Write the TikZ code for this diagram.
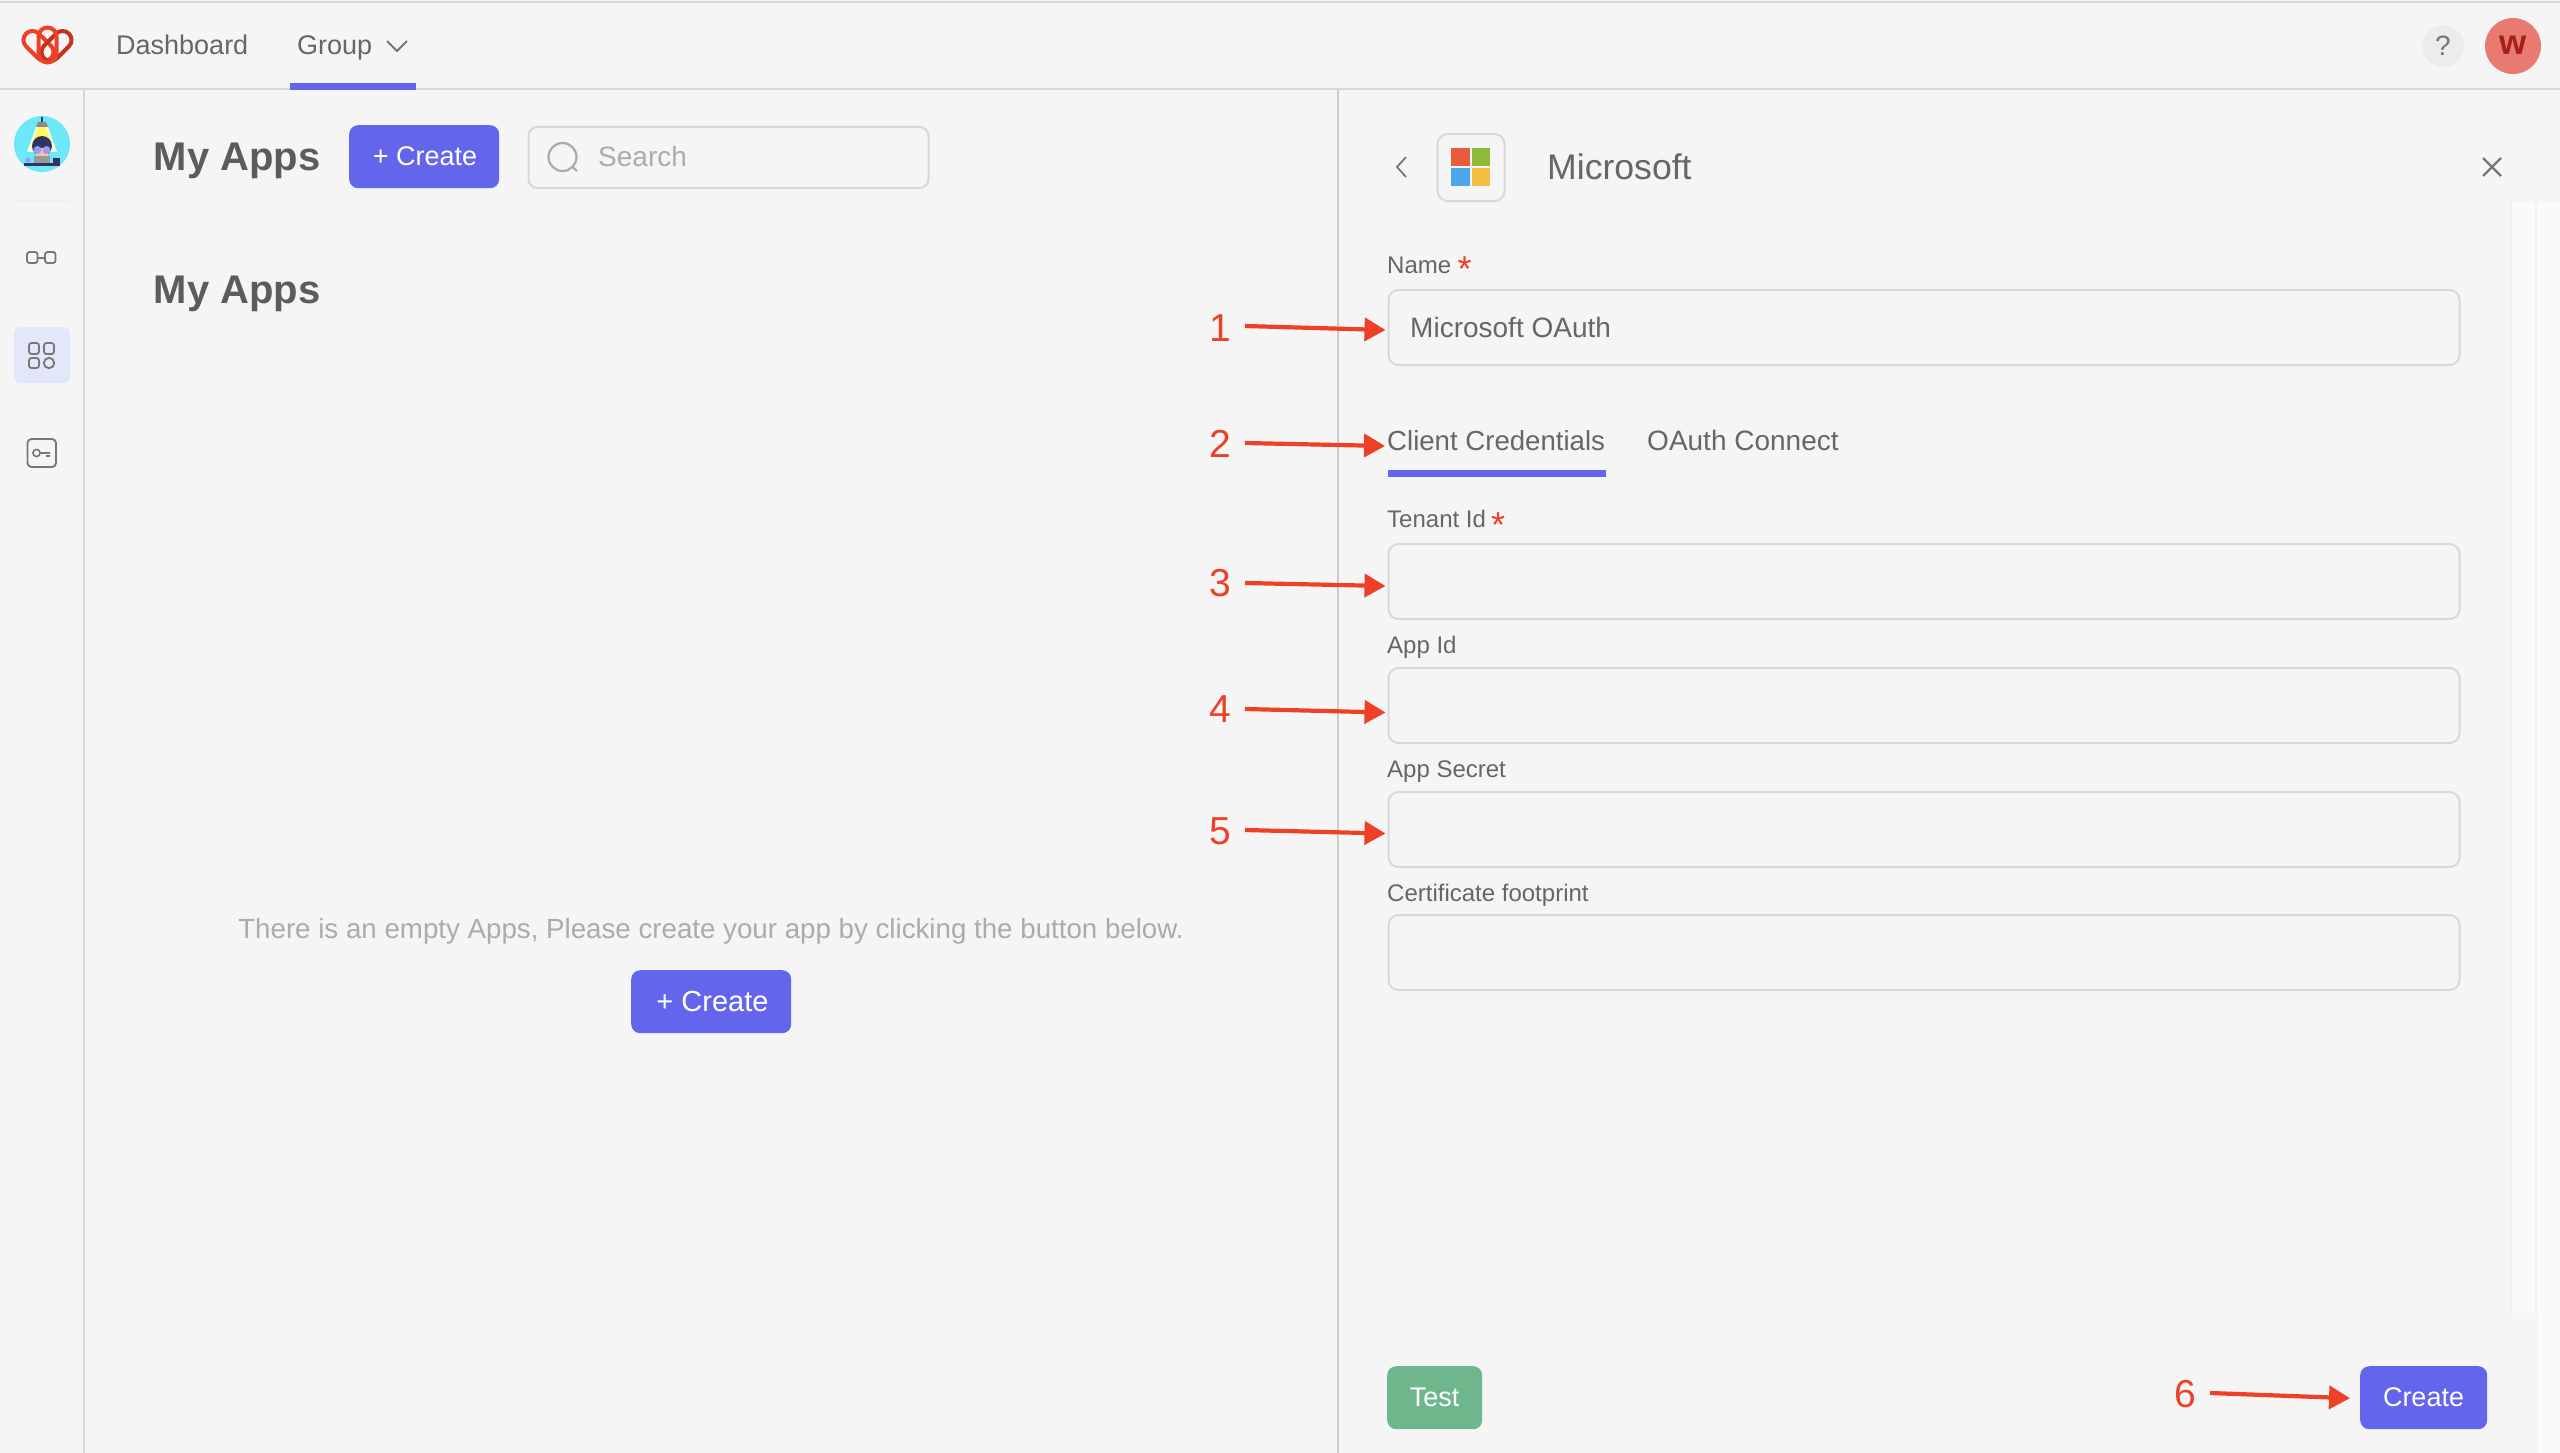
\documentclass[tikz,border=0pt]{standalone}
\usepackage{fontspec}
\setmainfont{Liberation Sans}
\usetikzlibrary{arrows.meta}
\definecolor{bg}{HTML}{F5F5F5}
\definecolor{prim}{HTML}{6366EC}
\definecolor{ared}{HTML}{EE4026}
\definecolor{bord}{HTML}{D8D8D8}
\definecolor{txt}{HTML}{666666}
\definecolor{head}{HTML}{5C5C5C}
\definecolor{mute}{HTML}{ABABAB}
\definecolor{icon}{HTML}{777777}
\definecolor{green}{HTML}{6EB68C}
\definecolor{msred}{HTML}{EA5A3C}
\definecolor{msgreen}{HTML}{8DBB38}
\definecolor{msblue}{HTML}{4CA6EA}
\definecolor{msyellow}{HTML}{F4BE42}
\definecolor{hilite}{HTML}{E2E7FA}
\definecolor{userbg}{HTML}{E97A72}
\definecolor{userfg}{HTML}{A81E18}
\definecolor{helpbg}{HTML}{EBECEB}
\definecolor{avabg}{HTML}{6CE8F8}
\definecolor{navy}{HTML}{2E3560}
\newcommand{\fsz}[1]{\fontsize{#1}{#1}\selectfont}
\tikzset{
  x=1pt,y=-1pt,
  lbl/.style={anchor=base west,inner sep=0,text=txt},
  ctr/.style={anchor=base,inner sep=0},
  field/.style={draw=bord,line width=2pt,rounded corners=10pt,anchor=north west,inner sep=0,minimum width=1071pt,minimum height=75pt},
  btn/.style={fill=prim,rounded corners=9pt,anchor=north west,inner sep=0,minimum height=63pt},
  rule/.style={draw=#1,line width=2pt},
  ico/.style={draw=icon,line width=1.8pt,rounded corners=2.5pt},
  callout/.style={draw=ared,line width=4.2pt,-{Triangle[length=21pt,width=23pt]}},
  num/.style={anchor=base,inner sep=0,text=ared,font=\fsz{39}},
  star/.style={anchor=base,inner sep=0,text=ared,font=\fsz{36}},
  capsule/.style={draw=#1,line width=4pt,rounded corners=9pt,inner sep=0,minimum width=35pt,minimum height=18pt},
}
\begin{document}
\begin{tikzpicture}
\useasboundingbox (0,0) rectangle (2560,1453);
\fill[bg] (0,0) rectangle (2560,1453);
% right strip and scroll track
\fill[fill=white!50!bg] (2537,202) rectangle (2560,1453);
\fill[fill=white!50!bg] (2511,202) rectangle (2536,1313);
\draw[draw=black!6,line width=2pt] (2511,202) -- (2511,1313);
\draw[draw=black!6,line width=2pt] (2536,202) -- (2536,1313);
\draw[draw=black!4,line width=1.5pt] (2537,1313) -- (2537,1453);
% frame lines
\draw[rule=bord] (0,2) -- (2560,2);
\draw[rule=bord] (0,89) -- (2560,89);
\draw[rule=bord] (84,89) -- (84,1453);
\draw[draw=black!20,line width=1.6pt] (1338,89) -- (1338,1453);
% logo
\node[capsule=ared,rotate=-45] (logoL) at (38.5,46) {};
\node[capsule=black!18!ared,rotate=45] (logoR) at (56.5,46) {};
\node[capsule=ared,rotate=90] (logoC) at (47.5,45) {};
% header
\node[lbl,font=\fsz{27}] (dash) at (116,55) {Dashboard};
\node[lbl,font=\fsz{27}] (group) at (297,55) {Group};
\draw[icon,line width=1.8pt] (387,41) -- (397,51) -- (407,41);
\fill[prim] (290,83) rectangle (416,90);
\node[circle,fill=helpbg,minimum size=42pt,inner sep=0] (help) at (2443,46) {};
\node[ctr,text=icon,font=\fsz{28}] (helpq) at (2443,56) {?};
\node[circle,fill=userbg,minimum size=56pt,inner sep=0] (user) at (2513,46) {};
\node[ctr,text=userfg,font=\bfseries\fsz{35}] (userw) at (2513,55) {w};
% sidebar avatar
\node[circle,fill=avabg,minimum size=56pt,inner sep=0] (avatar) at (42,144) {};
\fill[white!85!yellow] (36,127) -- (48,127) -- (57,152) -- (27,152) -- cycle;
\fill[yellow!60!white] (38,127) -- (46,127) -- (53,148) -- (31,148) -- cycle;
\draw[navy,line width=1.6pt] (42,117) -- (42,123);
\fill[black!45] (36,127) -- (38,122) -- (46,122) -- (48,127) -- cycle;
\fill[navy] (42,146) circle (10);
\fill[orange!45!white] (36,148) rectangle (48,158);
\fill[blue!40!white] (37.5,150) circle (4) (46.5,150) circle (4);
\fill[black!40] (34,156) rectangle (50,163);
\fill[navy] (24,163) rectangle (60,166);
\fill[navy] (53,158) rectangle (60,163);
\fill[blue!40!white] (28,160) circle (2.5);
\draw[draw=black!6,line width=2pt] (14,201) -- (70,201);
% sidebar icons
\draw[ico] (27,252) rectangle (37.5,263);
\draw[ico] (45,252) rectangle (55.5,263);
\draw[icon,line width=1.8pt] (37.5,258) -- (45,258);
\fill[fill=hilite,rounded corners=6pt] (14,327) rectangle (70,383);
\draw[ico] (29,343) rectangle (39,354);
\draw[ico] (44,343) rectangle (54,354);
\draw[ico] (29,358) rectangle (39,368);
\draw[icon,line width=1.8pt] (49,363) circle (5.2);
\draw[ico,rounded corners=4pt] (27.5,439) rectangle (56,467);
\draw[icon,line width=1.6pt] (36.5,453) circle (3.6);
\draw[icon,line width=1.6pt] (40,453) -- (50,453) (46,456) -- (50,456);
% left content
\node[lbl,text=head,font=\bfseries\fsz{40}] (title1) at (153.5,171) {My Apps};
\node[lbl,text=head,font=\bfseries\fsz{40}] (title2) at (153.5,303) {My Apps};
\node[btn,minimum width=150pt] (createTop) at (349,125) {};
\node[ctr,text=white,font=\fsz{27}] at (425,166) {+ Create};
\node[draw=bord,line width=2pt,rounded corners=9pt,anchor=north west,inner sep=0,minimum width=400pt,minimum height=61pt] (search) at (527.5,126) {};
\draw[mute,line width=2.2pt] (562.5,157) circle (14);
\draw[mute,line width=2.2pt] (572.5,167) -- (577,171);
\node[lbl,text=mute,font=\fsz{28}] (searchtxt) at (598,167) {Search};
\node[ctr,text=mute,font=\fsz{27.7}] (empty) at (711,938) {There is an empty Apps, Please create your app by clicking the button below.};
\node[btn,minimum width=160pt] (createMid) at (631,970) {};
\node[ctr,text=white,font=\fsz{29}] at (712.5,1011) {+ Create};
% panel head
\draw[icon,line width=1.8pt] (1406,157) -- (1397,167) -- (1406,177);
\node[draw=bord,line width=2pt,rounded corners=10pt,anchor=north west,inner sep=0,minimum size=67pt] (msbox) at (1436.5,133) {};
\fill[msred] (1451,148) rectangle (1470,166);
\fill[msgreen] (1472,148) rectangle (1490,166);
\fill[msblue] (1451,168) rectangle (1470,186);
\fill[msyellow] (1472,168) rectangle (1490,186);
\node[lbl,font=\fsz{35.6}] (mstitle) at (1547,179) {Microsoft};
\draw[icon,line width=2.2pt] (2483,158) -- (2501,176) (2501,158) -- (2483,176);
% form
\node[lbl,font=\fsz{24}] (lname) at (1387,273) {Name};
\node[star] at (1464.5,281) {*};
\node[field] (f1) at (1387.5,289) {};
\node[lbl,font=\fsz{28}] (val1) at (1410,337) {Microsoft OAuth};
\draw[draw=black!6,line width=1.5pt] (1606,476.5) -- (2462,476.5);
\node[lbl,font=\fsz{27.6}] (tab1) at (1387,450) {Client Credentials};
\node[lbl,font=\fsz{28}] (tab2) at (1647,450) {OAuth Connect};
\fill[prim] (1387.5,470) rectangle (1606,477);
\node[lbl,font=\fsz{24}] (ltenant) at (1387,527) {Tenant Id};
\node[star] at (1498,537) {*};
\node[field] (f2) at (1387.5,543) {};
\node[lbl,font=\fsz{24}] (lapp) at (1387,653) {App Id};
\node[field] (f3) at (1387.5,667) {};
\node[lbl,font=\fsz{24}] (lsec) at (1387,777) {App Secret};
\node[field] (f4) at (1387.5,791) {};
\node[lbl,font=\fsz{24}] (lcert) at (1387,901) {Certificate footprint};
\node[field] (f5) at (1387.5,914) {};
% buttons
\node[btn,fill=green,minimum width=95pt] (test) at (1387,1366) {};
\node[ctr,text=white,font=\fsz{27}] at (1434.5,1406.5) {Test};
\node[btn,minimum width=127pt] (createBot) at (2360,1366) {};
\node[ctr,text=white,font=\fsz{27}] at (2423.5,1406.5) {Create};
% callouts
\node[num] (n1) at (1220,341) {1};
\node[num] (n2) at (1220,457) {2};
\node[num] (n3) at (1220,596) {3};
\node[num] (n4) at (1220,722) {4};
\node[num] (n5) at (1220,844) {5};
\node[num] (n6) at (2185,1407) {6};
\coordinate (t1) at (1245,326);
\coordinate (t2) at (1245,443);
\coordinate (t3) at (1245,583);
\coordinate (t4) at (1245,709);
\coordinate (t5) at (1245,830);
\coordinate (t6) at (2210,1393);
\draw[callout] (t1) -- ([xshift=-2pt,yshift=-2.5pt]f1.west);
\draw[callout] (t2) -- ([xshift=-2pt]tab1.west |- 0,446);
\draw[callout] (t3) -- ([xshift=-2pt,yshift=-4.5pt]f2.west);
\draw[callout] (t4) -- ([xshift=-2pt,yshift=-7pt]f3.west);
\draw[callout] (t5) -- ([xshift=-2pt,yshift=-4pt]f4.west);
\draw[callout] (t6) -- ([xshift=-10pt,yshift=-0.5pt]createBot.west);
\end{tikzpicture}
\end{document}
